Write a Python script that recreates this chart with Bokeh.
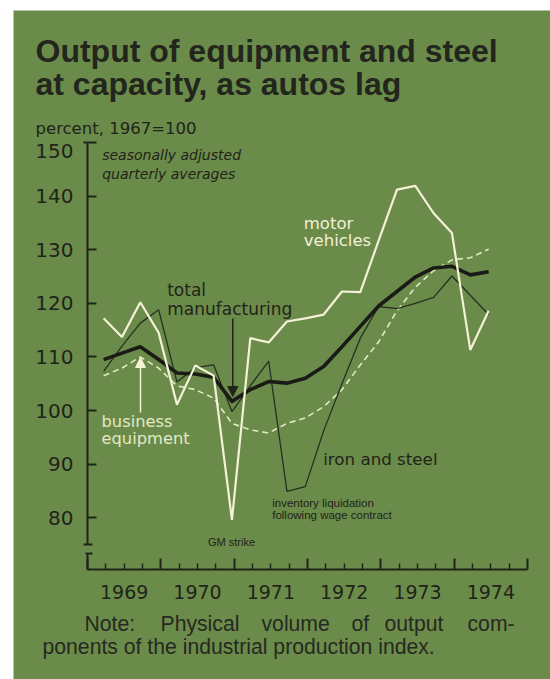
from bokeh.plotting import figure
from bokeh.models import (Range1d, LinearAxis, FixedTicker, Label, Arrow, NormalHead,
                          ColumnDataSource)
from bokeh.embed import file_html
from bokeh.resources import INLINE

# ---------------- data ----------------
quarters = ["1969 Q1", "1969 Q2", "1969 Q3", "1969 Q4",
            "1970 Q1", "1970 Q2", "1970 Q3", "1970 Q4",
            "1971 Q1", "1971 Q2", "1971 Q3", "1971 Q4",
            "1972 Q1", "1972 Q2", "1972 Q3", "1972 Q4",
            "1973 Q1", "1973 Q2", "1973 Q3", "1973 Q4",
            "1974 Q1", "1974 Q2"]
motor_vehicles = [117.2, 113.7, 120.2, 114.5, 101.1, 108.4, 106.5, 79.6,
                  113.5, 112.7, 116.6, 117.2, 117.9, 122.2, 122.1, 131.7,
                  141.2, 141.9, 136.8, 133.1, 111.3, 118.6]
total_manufacturing = [109.5, 110.7, 111.9, 109.5, 107.0, 106.8, 106.2, 101.7,
                       103.9, 105.4, 105.1, 106.0, 108.2, 111.9, 115.7, 119.5,
                       122.2, 124.9, 126.6, 126.9, 125.3, 125.9]
business_equipment = [106.5, 107.9, 110.0, 107.9, 104.6, 103.9, 102.3, 97.6,
                      96.4, 95.8, 97.6, 98.6, 100.7, 103.9, 108.5, 112.8,
                      118.6, 123.0, 126.1, 128.1, 128.5, 130.1]
iron_and_steel = [107.3, 112.0, 116.3, 118.8, 105.3, 108.0, 108.5, 99.8,
                  104.6, 109.2, 84.9, 85.8, 96.2, 105.0, 113.5, 119.4,
                  119.0, 120.0, 121.1, 125.1, 121.5, 117.9]
year_labels = ["1969", "1970", "1971", "1972", "1973", "1974"]
y_ticks = [80, 90, 100, 110, 120, 130, 140, 150]

# ---------------- styles ----------------
GREEN = "#6b8b4a"
DARK = "#1f2419"
CREAM = "#f3f1d6"
PALE = "#e2e9c4"
FONT = "DejaVu Sans"
HELV = "Liberation Sans"

# ---------------- geometry (page pixels) ----------------
PAGE_W, PAGE_H = 550, 679
MARGIN_L, MARGIN_T = 13, 10
AX_L, AX_R, AX_T, AX_B = 87, 527, 142, 569       # plotting area of the axes
X0, X1 = 1969.0, 1975.0
Y1 = 150.0
PX_PER_UNIT = 5.36
Y0 = Y1 - (AX_B - AX_T) / PX_PER_UNIT


def X(px):
    return X0 + (px - AX_L) * (X1 - X0) / (AX_R - AX_L)


def Y(py):
    return Y1 - (py - AX_T) / PX_PER_UNIT


def quarter_x(q):
    year, qn = q.split(" Q")
    return int(year) + 0.25 * int(qn) - 0.03


xs = [quarter_x(q) for q in quarters]
src = ColumnDataSource(dict(x=xs, motor=motor_vehicles, total=total_manufacturing,
                            equip=business_equipment, iron=iron_and_steel))

# the frame covers the whole green panel; axes are pinned with fixed_location
p = figure(width=PAGE_W - MARGIN_L, height=PAGE_H - MARGIN_T,
           x_range=Range1d(X(MARGIN_L), X(PAGE_W)),
           y_range=Range1d(Y(PAGE_H), Y(MARGIN_T)),
           x_axis_type=None, y_axis_type=None,
           output_backend="svg", toolbar_location=None,
           min_border=0,
           background_fill_color=GREEN, border_fill_color=GREEN,
           outline_line_color=None, margin=(MARGIN_T, 0, 0, MARGIN_L))

# ---------------- axes ----------------
yaxis = LinearAxis(ticker=FixedTicker(ticks=y_ticks, minor_ticks=[]),
                   fixed_location=X0, bounds=(Y(544), Y1),
                   major_label_overrides={y_ticks[-1]: ""},
                   major_tick_in=9, major_tick_out=0, minor_tick_in=0, minor_tick_out=0,
                   axis_line_color=DARK, axis_line_width=2,
                   major_tick_line_color=DARK, major_tick_line_width=2,
                   major_label_standoff=14, major_label_text_font=FONT,
                   major_label_text_font_size="20px", major_label_text_color=DARK)
p.add_layout(yaxis, "left")

years = [int(y) for y in year_labels] + [int(year_labels[-1]) + 1]
quarter_ticks = [y + 0.25 * q for y in years[:-1] for q in (1, 2, 3)]
xaxis_ticks = LinearAxis(ticker=FixedTicker(ticks=years, minor_ticks=quarter_ticks),
                         fixed_location=Y0, bounds=(X0, X1),
                         major_label_overrides={y: "" for y in years},
                         major_tick_in=11, major_tick_out=0,
                         minor_tick_in=6, minor_tick_out=0,
                         axis_line_color=DARK, axis_line_width=2,
                         major_tick_line_color=DARK, major_tick_line_width=2,
                         minor_tick_line_color=DARK, minor_tick_line_width=1.5,
                         major_label_standoff=0)
p.add_layout(xaxis_ticks, "below")

mid_years = [int(y) + 0.5 for y in year_labels]
xaxis_labels = LinearAxis(ticker=FixedTicker(ticks=mid_years, minor_ticks=[]),
                          fixed_location=Y0, bounds=(X0, X1),
                          major_label_overrides={m: t for m, t in zip(mid_years, year_labels)},
                          axis_line_color=None, major_tick_line_color=None,
                          minor_tick_line_color=None,
                          major_tick_in=0, major_tick_out=0,
                          major_label_standoff=15, major_label_text_font=FONT,
                          major_label_text_font_size="19px", major_label_text_color=DARK)
p.add_layout(xaxis_labels, "below")

# axis break, lower stub of the vertical axis, top bracket
p.segment(x0=[X(83), X(85)], y0=[Y(544), Y(553)], x1=[X(92), X(92)], y1=[Y(544), Y(553)],
          line_color=DARK, line_width=2)
p.segment(x0=[X0], y0=[Y(553)], x1=[X0], y1=[Y0], line_color=DARK, line_width=2)
p.segment(x0=[X(83)], y0=[Y1], x1=[X0], y1=[Y1], line_color=DARK, line_width=2)

# ---------------- series ----------------
p.line("x", "equip", source=src, line_color=PALE, line_width=1.6, line_dash="6 4")
p.line("x", "iron", source=src, line_color="#263121", line_width=1.3)
p.line("x", "total", source=src, line_color="#1a1b16", line_width=3.6, line_join="round")
p.line("x", "motor", source=src, line_color=CREAM, line_width=2.2)


# ---------------- texts ----------------
def label(px, baseline, text, size, color=DARK, font=FONT, style="normal", align="left"):
    # position given by the text's baseline in page pixels; drawn centred vertically
    center = baseline - 0.35 * size
    p.add_layout(Label(x=X(px), y=Y(center), text=text, text_font=font,
                       text_font_size=f"{size}px", text_font_style=style, text_color=color,
                       text_align=align, text_baseline="middle"))


label(35, 61.5, "Output of equipment and steel", 32, font=HELV, style="bold", color="#23261d")
label(35, 95, "at capacity, as autos lag", 32, font=HELV, style="bold", color="#23261d")
label(35, 134, "percent, 1967=100", 16.5)

# the "150" tick label sits below its bracket in the original
label(73, 157, str(y_ticks[-1]), 20, align="right")

label(101.7, 159.3, "seasonally adjusted", 14, style="italic")
label(101.7, 178, "quarterly averages", 14, style="italic")

label(166.7, 295, "total", 17)
label(166.7, 314.3, "manufacturing", 17)

label(303.3, 228.3, "motor", 16.5, color=CREAM)
label(303.3, 246, "vehicles", 16.5, color=CREAM)

label(101, 426.7, "business", 16.3, color=PALE)
label(101, 443.3, "equipment", 16.3, color=PALE)

label(322.7, 464, "iron and steel", 16.7)

label(271.7, 506.7, "inventory liquidation", 11.5, font=HELV)
label(271.7, 518.3, "following wage contract", 11.5, font=HELV)

label(231, 545, "GM strike", 11, font=HELV, align="center")

# justified note, line 1 word by word
for wx, w in [(84, "Note:"), (160, "Physical"), (261, "volume"),
              (351, "of"), (384, "output"), (467, "com-")]:
    label(wx, 630, w, 21.2, font=HELV, color="#262920")
label(42, 653, "ponents of the industrial production index.", 21.2, font=HELV, color="#262920")

# ---------------- arrows ----------------
p.add_layout(Arrow(end=NormalHead(size=10, fill_color=DARK, line_color=DARK),
                   x_start=X(232.3), y_start=Y(318), x_end=X(232.3), y_end=Y(396),
                   line_color=DARK, line_width=1.5))
p.add_layout(Arrow(end=NormalHead(size=10, fill_color=CREAM, line_color=CREAM),
                   x_start=X(140), y_start=Y(412), x_end=X(140), y_end=Y(357),
                   line_color=CREAM, line_width=1.5))

open("out.html", "w").write(file_html(p, INLINE))
